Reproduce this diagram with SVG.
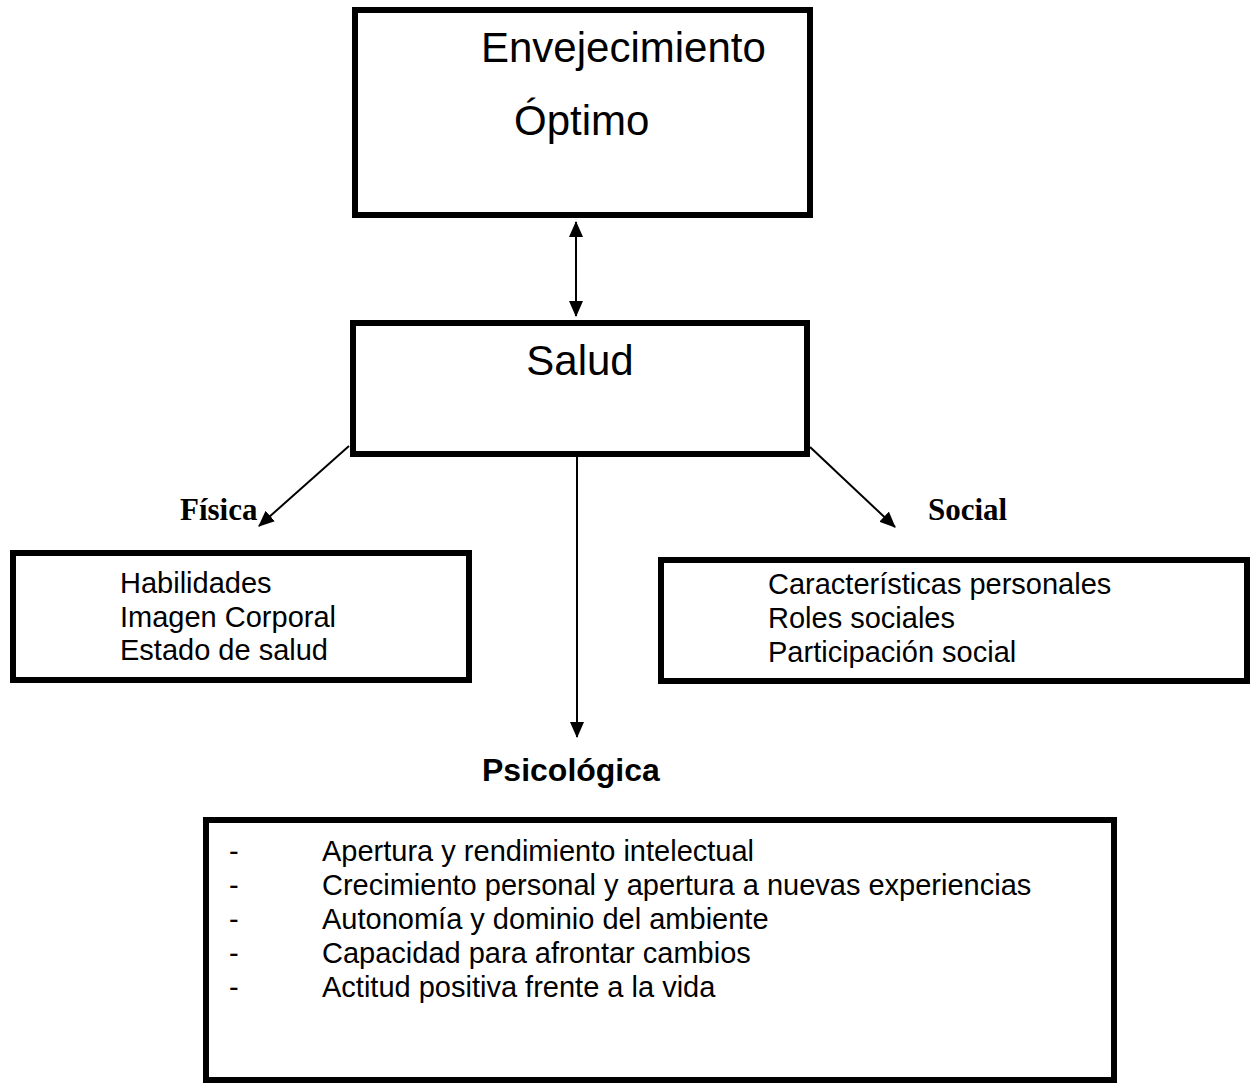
<svg xmlns="http://www.w3.org/2000/svg" width="1253" height="1084" viewBox="0 0 1253 1084">
<style>
.box{fill:#fff;stroke:#000;stroke-width:6}
.t{font-family:"Liberation Sans",Arial,sans-serif;fill:#000}
.big{font-size:42px}
.body{font-size:29px}
.lab{font-family:"Liberation Serif","Times New Roman",serif;font-weight:bold;font-size:31px}
.plab{font-family:"Liberation Sans",Arial,sans-serif;font-weight:bold;font-size:32px}
.c{fill:none;stroke:#000;stroke-width:2}
</style>
<defs>
<marker id="ah" markerUnits="userSpaceOnUse" markerWidth="16" markerHeight="14" refX="15" refY="7" orient="auto-start-reverse" viewBox="0 0 16 14">
<path d="M0,0 L16,7 L0,14 Z" fill="#000"/>
</marker>
</defs>
<rect width="1253" height="1084" fill="#fff"/>
<g id="connectors">
<line class="c" x1="576" y1="222" x2="576" y2="316" marker-start="url(#ah)" marker-end="url(#ah)"/>
<line class="c" x1="349" y1="446" x2="259" y2="526" marker-end="url(#ah)"/>
<line class="c" x1="810" y1="447" x2="895" y2="527" marker-end="url(#ah)"/>
<line class="c" x1="577" y1="457" x2="577" y2="737" marker-end="url(#ah)"/>
</g>
<g id="envejecimiento">
<rect class="box" x="355" y="10" width="455" height="205"/>
<text class="t big" x="481" y="62">Envejecimiento</text>
<text class="t big" x="514" y="135">Óptimo</text>
</g>
<g id="salud">
<rect class="box" x="353" y="323" width="454" height="131"/>
<text class="t big" x="580" y="375" text-anchor="middle">Salud</text>
</g>
<g id="label-fisica">
<text class="lab" x="180" y="520">Física</text>
</g>
<g id="label-social">
<text class="lab" x="928" y="520">Social</text>
</g>
<g id="fisica">
<rect class="box" x="13" y="553" width="456" height="127"/>
<text class="t body" x="120" y="593">Habilidades</text>
<text class="t body" x="120" y="627">Imagen Corporal</text>
<text class="t body" x="120" y="660">Estado de salud</text>
</g>
<g id="social">
<rect class="box" x="661" y="560" width="586" height="121"/>
<text class="t body" x="768" y="594">Características personales</text>
<text class="t body" x="768" y="628">Roles sociales</text>
<text class="t body" x="768" y="662">Participación social</text>
</g>
<g id="label-psicologica">
<text class="plab" x="482" y="781">Psicológica</text>
</g>
<g id="psicologica">
<rect class="box" x="206" y="820" width="908" height="260"/>
<text class="t body" x="229" y="861">-</text>
<text class="t body" x="322" y="861">Apertura y rendimiento intelectual</text>
<text class="t body" x="229" y="895">-</text>
<text class="t body" x="322" y="895">Crecimiento personal y apertura a nuevas experiencias</text>
<text class="t body" x="229" y="929">-</text>
<text class="t body" x="322" y="929">Autonomía y dominio del ambiente</text>
<text class="t body" x="229" y="963">-</text>
<text class="t body" x="322" y="963">Capacidad para afrontar cambios</text>
<text class="t body" x="229" y="997">-</text>
<text class="t body" x="322" y="997">Actitud positiva frente a la vida</text>
</g>
</svg>
